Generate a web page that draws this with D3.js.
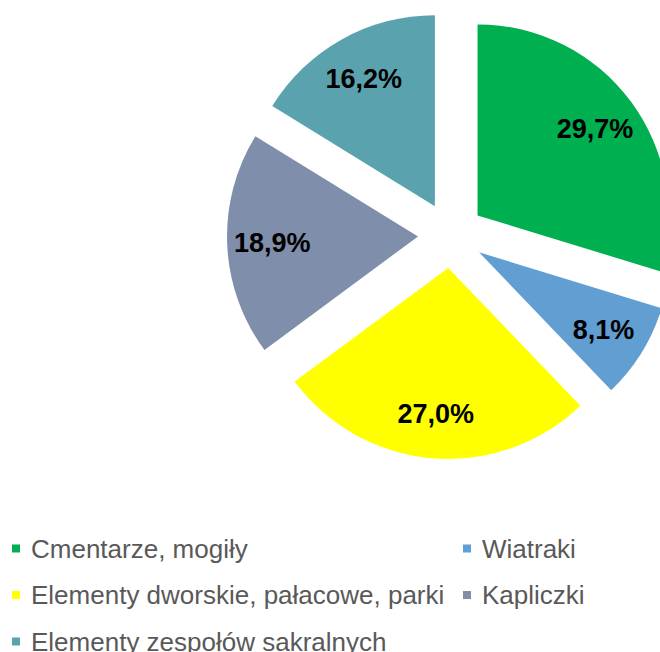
<!DOCTYPE html>
<html>
<head>
<meta charset="utf-8">
<script src="https://cdn.jsdelivr.net/npm/d3@7"></script>
<style>
  body { margin: 0; background: #fff; }
  svg { display: block; }
</style>
</head>
<body>
<div id="chart"></div>
<script>
// Donnees du graphique
const categories = ["Cmentarze, mogiły", "Wiatraki", "Elementy dworskie, pałacowe, parki", "Kapliczki", "Elementy zespołów sakralnych"];
const values = [29.7, 8.1, 27.0, 18.9, 16.2];
const labels = ["29,7%", "8,1%", "27,0%", "18,9%", "16,2%"];
const colors = ["#00B050", "#619ED2", "#FFFF00", "#7F8EAA", "#5AA3AE"];

const width = 660, height = 652;
const cx = 451, cy = 235, radius = 191, explode = 33;

const svg = d3.select("#chart")
    .append("svg")
    .attr("width", width)
    .attr("height", height);

const pie = d3.pie().sort(null).value(d => d);
const arcs = pie(values);

const arc = d3.arc().innerRadius(0).outerRadius(radius);
const labelArc = d3.arc().innerRadius(146).outerRadius(146);

const g = svg.append("g")
    .attr("transform", `translate(${cx},${cy})`);

// Decalage de chaque part le long de sa bissectrice
function shift(d) {
    const a = (d.startAngle + d.endAngle) / 2;
    return [explode * Math.sin(a), -explode * Math.cos(a)];
}

const slices = g.selectAll("g.slice")
    .data(arcs)
    .join("g")
    .attr("class", "slice")
    .attr("transform", d => `translate(${shift(d)})`);

slices.append("path")
    .attr("d", arc)
    .attr("fill", (d, i) => colors[i]);

slices.append("text")
    .attr("transform", d => `translate(${labelArc.centroid(d)})`)
    .attr("text-anchor", "middle")
    .attr("dy", "0.36em")
    .attr("font-family", "Liberation Sans, Arial, sans-serif")
    .attr("font-weight", "bold")
    .attr("font-size", 27)
    .attr("fill", "#000")
    .text((d, i) => labels[i]);

// Legende sur deux colonnes
const legend = svg.append("g")
    .attr("font-family", "Liberation Sans, Arial, sans-serif")
    .attr("font-size", 26)
    .attr("fill", "#595959");

const colX = [12, 463], rowY = [557.5, 604, 650.5];

const items = legend.selectAll("g")
    .data(categories)
    .join("g")
    .attr("transform", (d, i) => `translate(${colX[i % 2]},${rowY[Math.floor(i / 2)]})`);

items.append("rect")
    .attr("x", 0)
    .attr("y", -13)
    .attr("width", 8)
    .attr("height", 8)
    .attr("fill", (d, i) => colors[i]);

items.append("text")
    .attr("x", 19)
    .text(d => d);
</script>
</body>
</html>
